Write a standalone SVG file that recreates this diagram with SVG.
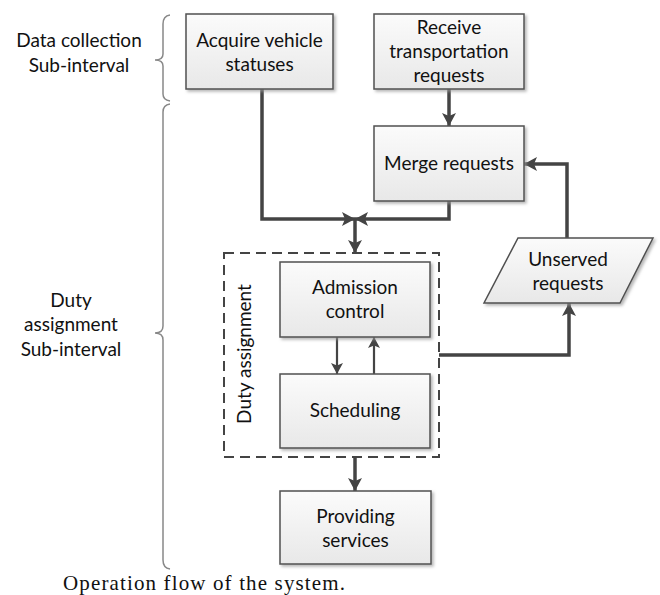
<svg xmlns="http://www.w3.org/2000/svg" width="660" height="595" viewBox="0 0 660 595">
<style>
.box{fill:url(#g);stroke:#505050;stroke-width:1.5;filter:url(#sh)}
.t{font-family:Lato,"Open Sans",sans-serif;font-size:19px;fill:#111;text-anchor:middle}
.c{fill:none;stroke:#444;stroke-width:3.5}
.ci{fill:none;stroke:#444;stroke-width:2.2}
.br{fill:none;stroke:#888;stroke-width:1.5}
</style>
<defs>
<linearGradient id="g" x1="0" y1="0" x2="0" y2="1">
<stop offset="0" stop-color="#fbfbfb"/>
<stop offset="1" stop-color="#e8e8e8"/>
</linearGradient>
<filter id="sh" x="-10%" y="-10%" width="130%" height="130%">
<feDropShadow dx="2" dy="2" stdDeviation="1.5" flood-color="#999" flood-opacity="0.7"/>
</filter>
<marker id="a" markerUnits="userSpaceOnUse" markerWidth="14" markerHeight="14" refX="13" refY="7" orient="auto">
<path d="M0,0 L13,7 L0,14 L3,7 z" fill="#444"/>
</marker>
<marker id="ai" markerUnits="userSpaceOnUse" markerWidth="12" markerHeight="12" refX="11" refY="6" orient="auto">
<path d="M0,0 L11,6 L0,12 L2.5,6 z" fill="#444"/>
</marker>
</defs>
<rect width="660" height="595" fill="#fff"/>

<g id="braces">
<path class="br" d="M170,15 Q163,16 163,24 V54 Q163,60 155,60 Q163,60 163,66 V94 Q163,100 170,101"/>
<path class="br" d="M170,104 Q163,105 163,112 V326 Q163,333 155,333 Q163,333 163,340 V560 Q163,568 170,569"/>
<text class="t" x="79" y="47">Data collection</text>
<text class="t" x="79" y="72">Sub-interval</text>
<text class="t" x="71" y="307">Duty</text>
<text class="t" x="71" y="331">assignment</text>
<text class="t" x="71" y="356">Sub-interval</text>
</g>

<g id="connectors">
<path class="c" d="M449,89 V126" marker-end="url(#a)"/>
<path class="c" d="M262,89 V219 H355" marker-end="url(#a)"/>
<path class="c" d="M449,201 V219 H355" marker-end="url(#a)"/>
<path class="c" d="M355,219 V253" marker-end="url(#a)"/>
<path class="c" d="M567,238 V164 H524" marker-end="url(#a)"/>
<path class="ci" d="M337,337 V374" marker-end="url(#ai)"/>
<path class="ci" d="M374,374 V337" marker-end="url(#ai)"/>
<path class="c" d="M439,355 H569 V303" marker-end="url(#a)"/>
<path class="c" d="M355,457 V491" marker-end="url(#a)"/>
</g>

<g id="acquire">
<rect class="box" x="186" y="14" width="147" height="75"/>
<text class="t" x="259.500" y="47">Acquire vehicle</text>
<text class="t" x="259.500" y="71">statuses</text>
</g>
<g id="receive">
<rect class="box" x="374" y="14" width="150" height="75"/>
<text class="t" x="449" y="34">Receive</text>
<text class="t" x="449" y="58">transportation</text>
<text class="t" x="449" y="82">requests</text>
</g>
<g id="merge">
<rect class="box" x="374" y="126" width="150" height="75"/>
<text class="t" x="449" y="170">Merge requests</text>
</g>
<g id="unserved">
<path class="box" d="M518,238 H653 L620,303 H484 Z"/>
<text class="t" x="568" y="266">Unserved</text>
<text class="t" x="568" y="290">requests</text>
</g>
<g id="duty">
<rect x="224" y="253" width="215" height="204" fill="none" stroke="#444" stroke-width="2" stroke-dasharray="10,6"/>
<text class="t" transform="translate(251,354) rotate(-90)" x="0" y="0">Duty assignment</text>
</g>
<g id="admission">
<rect class="box" x="280" y="262" width="150" height="75"/>
<text class="t" x="355" y="294">Admission</text>
<text class="t" x="355" y="318">control</text>
</g>
<g id="scheduling">
<rect class="box" x="280" y="374" width="150" height="74"/>
<text class="t" x="355" y="417">Scheduling</text>
</g>
<g id="providing">
<rect class="box" x="280" y="491" width="151" height="73"/>
<text class="t" x="355.500" y="523">Providing</text>
<text class="t" x="355.500" y="547">services</text>
</g>
<text x="63" y="590" font-family="'Liberation Serif',serif" font-size="21" fill="#111" textLength="282" lengthAdjust="spacing">Operation flow of the system.</text>
</svg>
